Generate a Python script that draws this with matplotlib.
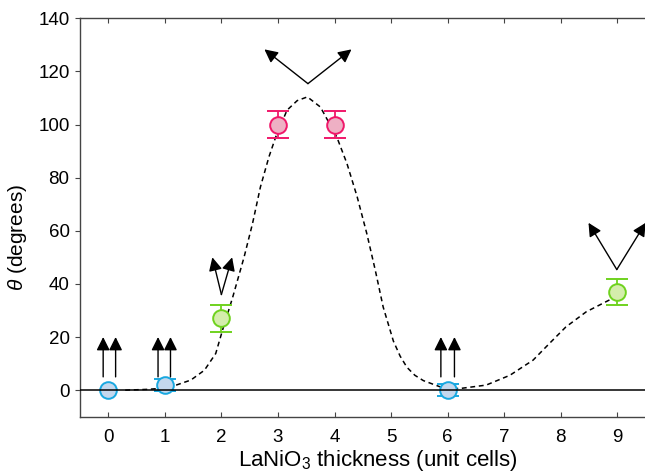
import matplotlib
matplotlib.use("Agg")
import matplotlib.pyplot as plt

plt.rcParams["font.family"] = ["Liberation Sans", "DejaVu Sans"]
plt.rcParams["mathtext.fontset"] = "custom"
plt.rcParams["mathtext.rm"] = "Liberation Sans"
plt.rcParams["mathtext.it"] = "Liberation Sans:italic"

# measured angles
thickness = [0, 1, 2, 3, 4, 6, 9]
theta = [0, 2, 27, 100, 100, 0, 37]
theta_err = [0, 2.2, 5, 5, 5, 2.2, 5]
phase = ["col", "col", "tilt", "big", "big", "col", "tilt"]

face = {"col": "#c4d8ee", "tilt": "#d4edac", "big": "#eeb0c4"}
edge = {"col": "#19a8e0", "tilt": "#6fd21e", "big": "#f0186a"}

# guide-to-the-eye curve
curve_x = [0.3, 0.7, 1.0, 1.2, 1.46, 1.70, 1.90, 2.02, 2.20, 2.40, 2.55,
           2.69, 2.84, 2.96, 3.16, 3.34, 3.52, 3.75, 4.04, 4.22, 4.40, 4.57,
           4.72, 4.86, 5.04, 5.16, 5.28, 5.42, 5.57, 5.86, 6.0, 6.21, 6.68,
           7.10, 7.51, 7.80, 8.09, 8.45, 8.91]
curve_y = [0, 0.3, 0.8, 1.9, 3.8, 7.5, 13.8, 22.6, 35, 50, 62.7,
           76.5, 87.8, 95.3, 105.4, 109, 110.4, 106.6, 95.3, 85.3, 72.8, 59,
           45.2, 31.3, 18.5, 12.8, 8.6, 5.6, 3.6, 1.3, 0.8, 0.6, 1.9,
           5.6, 11.3, 17.6, 23.8, 29.5, 34.5]

# spin arrows: (tail x, tail y, tip x, tip y)
spins = [
    (-0.09, 5, -0.09, 20), (0.13, 5, 0.13, 20),
    (0.88, 5, 0.88, 20), (1.10, 5, 1.10, 20),
    (5.88, 5, 5.88, 20), (6.12, 5, 6.12, 20),
    (2.0, 36, 1.84, 50), (2.0, 36, 2.19, 50),
    (3.53, 115.4, 2.76, 128.3), (3.53, 115.4, 4.30, 128.3),
    (8.99, 45.4, 8.49, 63), (8.99, 45.4, 9.5, 63),
]

fig = plt.figure(figsize=(6.45, 4.75), dpi=100)
ax = fig.add_axes([0.124, 0.1227, 0.877, 0.8388])

ax.plot(curve_x, curve_y, ls=(0, (3.2, 2.4)), color="k", lw=1.1, zorder=2)
ax.axhline(0, color="k", lw=1.1, zorder=6)

for x, y, e, p in zip(thickness, theta, theta_err, phase):
    ax.errorbar(x, y, yerr=e if e else None, fmt="o", ms=12,
                mfc=face[p], mec=edge[p], mew=1.4, ecolor=edge[p],
                elinewidth=1.3, capsize=8, capthick=1.3, zorder=4)

for x0, y0, x1, y1 in spins:
    ax.annotate("", xy=(x1, y1), xytext=(x0, y0), annotation_clip=False,
                arrowprops=dict(arrowstyle="-|>", color="k", lw=1.0,
                                mutation_scale=20, shrinkA=0, shrinkB=0),
                zorder=5)

ax.set_xlim(-0.5, 9.5)
ax.set_ylim(-10, 140)
ax.set_xticks(range(10))
ax.set_yticks(range(0, 141, 20))
ax.tick_params(axis="y", which="both", direction="out", length=3.5,
               labelsize=13.5, pad=4, right=True, color="#444444")
ax.tick_params(axis="x", which="both", direction="in", length=3.5,
               labelsize=13.5, pad=9, top=True, color="#444444")
for s in ax.spines.values():
    s.set_color("#444444")
    s.set_linewidth(1.0)

ax.set_xlabel("LaNiO$_3$ thickness (unit cells)", fontsize=16)
ax.xaxis.set_label_coords(0.527, -0.078)
ax.set_ylabel(r"$\theta$ (degrees)", fontsize=15)
ax.yaxis.set_label_coords(-0.09, 0.45)

fig.savefig("out.png", dpi=100)
